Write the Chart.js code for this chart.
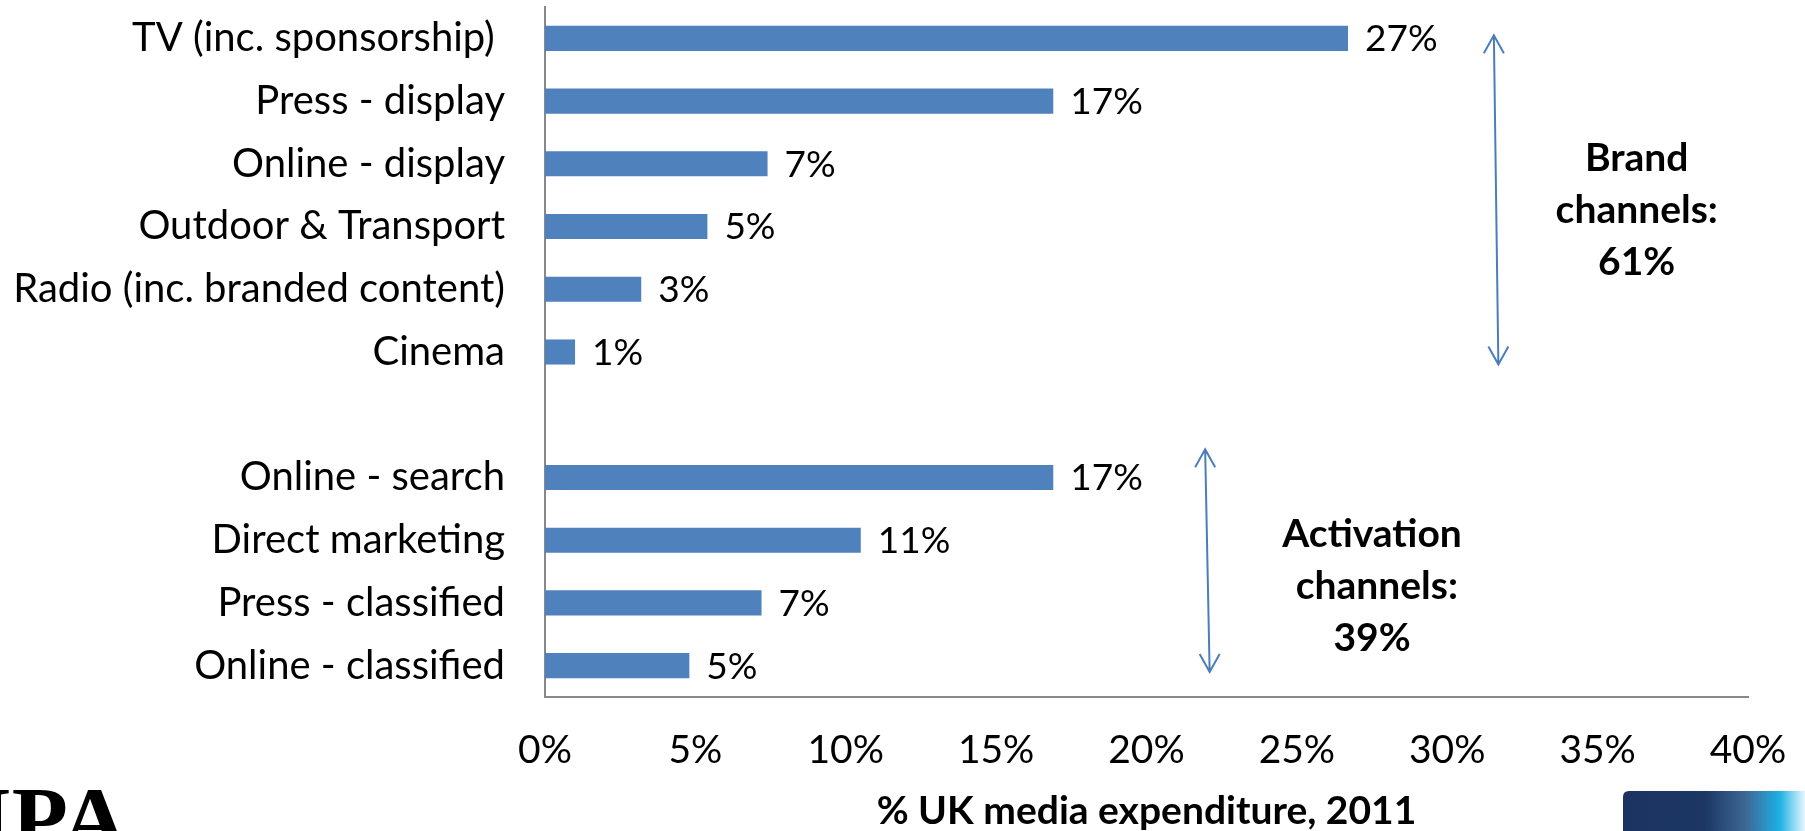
<!DOCTYPE html>
<html>
<head>
<meta charset="utf-8">
<script src="https://cdn.jsdelivr.net/npm/chart.js@4/dist/chart.umd.min.js"></script>
<style>
  html, body { margin: 0; padding: 0; background: #fff; }
  #wrap { width: 1805px; height: 831px; position: relative; }
</style>
</head>
<body>
<div id="wrap"><canvas id="chart"></canvas></div>
<script>
/* ---- data ------------------------------------------------------------ */
const channels = [
  'TV (inc. sponsorship) ', 'Press - display', 'Online - display',
  'Outdoor & Transport', 'Radio (inc. branded content)', 'Cinema',
  '',
  'Online - search', 'Direct marketing', 'Press - classified', 'Online - classified'
];
const shares = [26.7, 16.9, 7.4, 5.4, 3.2, 1.0, null, 16.9, 10.5, 7.2, 4.8];
const xTicks = [0, 5, 10, 15, 20, 25, 30, 35, 40];

/* group brackets drawn beside the bars */
const groupLines  = [['Brand', 'channels:', '61%'], ['Activation', ' channels:', '39%']];
const groupRange  = [[0, 5], [7, 10]];          // first / last category index

const BAR_BLUE = '#4f81bd';
const FONT = 'Lato';

/* ---- plugins --------------------------------------------------------- */
const valueLabels = {
  id: 'valueLabels',
  afterDatasetsDraw(chart) {
    const { ctx } = chart;
    const meta = chart.getDatasetMeta(0);
    ctx.save();
    ctx.font = `37px ${FONT}`;
    ctx.fillStyle = '#000';
    ctx.textAlign = 'left';
    ctx.textBaseline = 'middle';
    meta.data.forEach((bar, i) => {
      if (shares[i] == null) return;
      ctx.fillText(Math.round(shares[i]) + '%', bar.x + 17, bar.y + 1);
    });
    ctx.restore();
  }
};

// double-headed arrows + bold group totals
const groupNotes = {
  id: 'groupNotes',
  afterDraw(chart) {
    const { ctx, scales: { x, y } } = chart;
    const arrowX = [[31.55, 31.7], [21.95, 22.1]];   // top / bottom, in % units
    const reach  = [[-0.05, 0.2], [-0.45, 0.1]];     // extra reach above / below, in categories
    const textX  = [36.3, 27.5];
    const textY  = [2.75, 8.73];                     // middle line, in category units
    ctx.save();
    ctx.strokeStyle = '#4a7ebb';
    ctx.lineWidth = 2;
    groupRange.forEach(([a, b], g) => {
      const x0 = x.getPixelForValue(arrowX[g][0]);
      const x1 = x.getPixelForValue(arrowX[g][1]);
      const y0 = y.getPixelForValue(a + reach[g][0]);
      const y1 = y.getPixelForValue(b + reach[g][1]);
      ctx.beginPath();
      ctx.moveTo(x0, y0); ctx.lineTo(x1, y1);
      ctx.moveTo(x0 - 10, y0 + 18); ctx.lineTo(x0, y0); ctx.lineTo(x0 + 10, y0 + 18);
      ctx.moveTo(x1 - 10, y1 - 18); ctx.lineTo(x1, y1); ctx.lineTo(x1 + 10, y1 - 18);
      ctx.stroke();

      const lines = groupLines[g];
      const cx = x.getPixelForValue(textX[g]);
      const cy = y.getPixelForValue(textY[g]);
      ctx.font = `bold 39px ${FONT}`;
      ctx.fillStyle = '#000';
      ctx.textAlign = 'center';
      ctx.textBaseline = 'middle';
      lines.forEach((t, k) => ctx.fillText(t, cx, cy + (k - (lines.length - 1) / 2) * 52));
    });
    ctx.restore();
  }
};

// footer marks: publisher wordmark and corner gradient tab
const footer = {
  id: 'footer',
  afterDraw(chart) {
    const { ctx, width, height } = chart;
    ctx.save();
    ctx.fillStyle = '#000';
    ctx.font = 'bold 92px "Liberation Serif"';
    ctx.textBaseline = 'alphabetic';
    ctx.textAlign = 'left';
    ctx.fillText('IPA', -24, 850);

    const left = 1623, top = 791, r = 6;
    const grad = ctx.createLinearGradient(left, 0, width, 0);
    grad.addColorStop(0, '#1b3360');
    grad.addColorStop(0.45, '#1c3764');
    grad.addColorStop(0.68, '#3e6995');
    grad.addColorStop(0.86, '#1cb0e4');
    grad.addColorStop(1, '#e6f7ff');
    ctx.fillStyle = grad;
    ctx.beginPath();
    ctx.moveTo(left, height);
    ctx.lineTo(left, top + r);
    ctx.quadraticCurveTo(left, top, left + r, top);
    ctx.lineTo(width, top);
    ctx.lineTo(width, height);
    ctx.closePath();
    ctx.fill();
    ctx.restore();
  }
};

/* ---- chart ----------------------------------------------------------- */
function build() {
  new Chart(document.getElementById('chart'), {
    type: 'bar',
    data: {
      labels: channels,
      datasets: [{
        data: shares,
        backgroundColor: BAR_BLUE,
        borderWidth: 0,
        barPercentage: 0.4,
        categoryPercentage: 1
      }]
    },
    options: {
      indexAxis: 'y',
      responsive: true,
      maintainAspectRatio: false,
      animation: false,
      devicePixelRatio: 1,
      layout: { padding: { top: 7, right: 57, left: 0, bottom: 0 } },
      plugins: { legend: { display: false }, tooltip: { enabled: false } },
      scales: {
        x: {
          min: 0, max: 40,
          afterBuildTicks: s => { s.ticks = xTicks.map(v => ({ value: v })); },
          afterFit: s => { s.height = 134; s.paddingLeft = 0; s.paddingRight = 0; },
          grid: { display: false, drawTicks: false },
          border: { display: true, color: '#888', width: 2 },
          ticks: {
            padding: 30,
            color: '#000',
            font: { family: FONT, size: 39 },
            maxRotation: 0,
            callback: v => v + '%'
          },
          title: {
            display: true,
            text: '% UK media expenditure, 2011',
            color: '#000',
            font: { family: FONT, size: 39, weight: 'bold', lineHeight: 1 },
            padding: { top: 0, bottom: 0 }
          }
        },
        y: {
          afterFit: s => { s.width = 545; s.paddingTop = 0; s.paddingBottom = 0; },
          grid: { display: false, drawTicks: false },
          border: { display: true, color: '#888', width: 2 },
          ticks: {
            padding: 40,
            color: '#000',
            font: { family: FONT, size: 40 },
            autoSkip: false
          }
        }
      }
    },
    plugins: [valueLabels, groupNotes, footer]
  });
}

Promise.all([
  document.fonts.load(`40px ${FONT}`),
  document.fonts.load(`bold 39px ${FONT}`),
  document.fonts.load('bold 92px "Liberation Serif"')
]).then(build, build);
</script>
</body>
</html>
